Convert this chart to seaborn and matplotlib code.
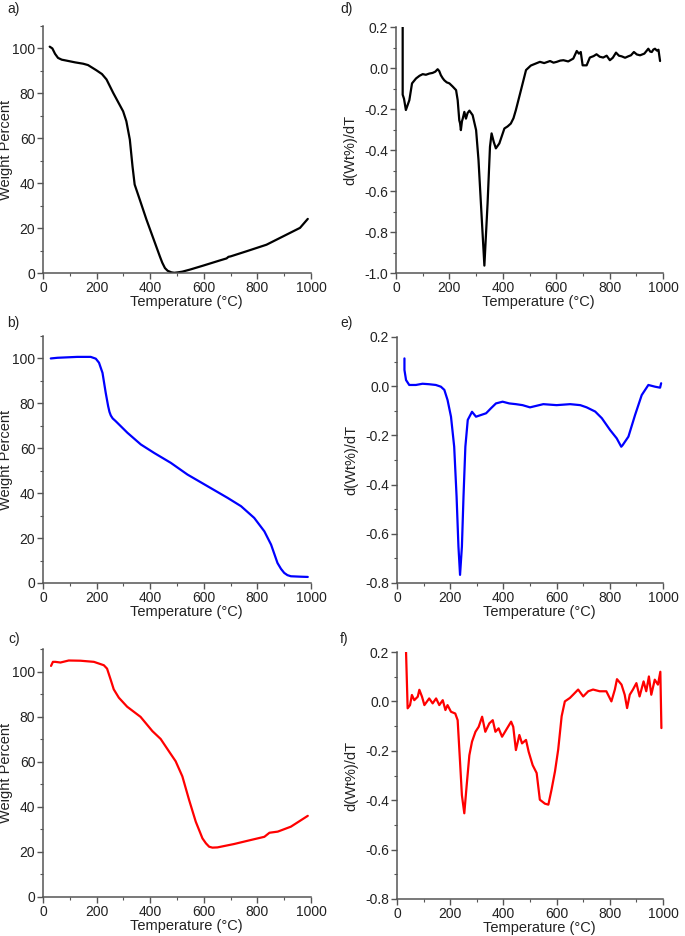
import matplotlib
matplotlib.use("Agg")
import matplotlib.pyplot as plt
from matplotlib.ticker import MultipleLocator, FormatStrFormatter
import seaborn as sns
import pandas as pd

sns.set_style("ticks")
plt.rcParams['font.family'] = ['Liberation Sans', 'DejaVu Sans']

# ---- Panel a: TGA (black) ----
a_T = [25, 35, 45, 56, 70, 87, 120, 150, 168, 199, 220, 237, 262, 299, 311, 324, 334, 342, 361,
       386, 411, 436, 445, 455, 465, 479, 490, 504, 520, 548, 598, 660, 685, 692, 700, 760, 834,
       909, 959, 988]
a_W = [100.8, 100.0, 97.6, 95.8, 95.0, 94.6, 93.8, 93.2, 92.6, 90.3, 88.6, 86.2, 80.2, 72.0, 67.6,
       59.4, 47.5, 39.4, 32.7, 23.8, 15.6, 7.4, 4.6, 2.2, 1.0, 0.3, 0.1, 0.3, 0.6, 1.5, 3.3, 5.6,
       6.5, 7.2, 7.4, 9.7, 12.6, 17.1, 20.1, 24.1]

# ---- Panel b: TGA (blue) ----
b_T = [29, 54, 128, 178, 197, 209, 222, 234, 243, 248, 253, 260, 271, 315, 365, 415, 477, 539,
       614, 689, 739, 788, 826, 851, 875, 888, 900, 912, 925, 963, 988]
b_W = [100.0, 100.3, 100.7, 100.7, 99.9, 98.1, 93.6, 84.7, 78.8, 76.2, 74.6, 73.3, 72.1, 66.9,
       61.7, 57.9, 53.5, 48.3, 43.1, 37.9, 34.2, 29.0, 23.0, 17.1, 8.9, 6.3, 4.5, 3.5, 3.0, 2.8, 2.7]

# ---- Panel c: TGA (red) ----
c_T = [30, 37, 46, 65, 96, 140, 190, 227, 239, 252, 264, 283, 314, 364, 408, 439, 470, 495, 520,
       545, 570, 595, 608, 620, 632, 651, 713, 776, 826, 845, 876, 925, 988]
c_W = [102.5, 104.3, 104.3, 104.0, 104.9, 104.8, 104.3, 102.8, 101.3, 96.6, 92.1, 88.4, 84.4,
       79.9, 73.6, 70.1, 64.6, 60.2, 53.5, 43.1, 33.4, 26.0, 23.8, 22.3, 21.9, 22.0, 23.5, 25.3,
       26.7, 28.5, 29.0, 31.2, 36.0]

# ---- Panel d: DTG (black) ----
d_T = [25, 25, 30, 37, 50, 60, 75, 88, 100, 112, 125, 137, 147, 156, 162, 168, 175, 181, 190,
       200, 212, 225, 231, 237, 240, 243, 247, 250, 256, 262, 268, 275, 287, 300, 309, 318, 331,
       343, 352, 358, 366, 374, 387, 406, 418, 430, 440, 449, 468, 487, 505, 520, 539, 555, 577,
       590, 602, 615, 627, 645, 664, 677, 685, 692, 699, 714, 726, 740, 751, 763, 776, 789, 801,
       812, 824, 835, 845, 858, 870, 880, 891, 902, 914, 930, 945, 952, 958, 964, 970, 977, 983, 989]
d_V = [0.20, -0.13, -0.15, -0.205, -0.157, -0.075, -0.051, -0.038, -0.030, -0.033, -0.027, -0.024,
       -0.018, -0.006, -0.015, -0.035, -0.05, -0.06, -0.07, -0.075, -0.09, -0.108, -0.157, -0.255,
       -0.27, -0.303, -0.26, -0.247, -0.214, -0.247, -0.22, -0.208, -0.230, -0.303, -0.449, -0.66,
       -0.964, -0.66, -0.384, -0.319, -0.36, -0.392, -0.368, -0.295, -0.285, -0.271, -0.245, -0.205,
       -0.108, -0.010, 0.012, 0.020, 0.030, 0.024, 0.034, 0.026, 0.030, 0.036, 0.038, 0.032, 0.046,
       0.083, 0.070, 0.078, 0.013, 0.013, 0.051, 0.058, 0.067, 0.055, 0.051, 0.060, 0.038, 0.050,
       0.075, 0.060, 0.057, 0.050, 0.057, 0.062, 0.078, 0.066, 0.062, 0.070, 0.094, 0.080, 0.078,
       0.090, 0.094, 0.085, 0.089, 0.034]

# ---- Panel e: DTG (blue) ----
e_T = [28, 28, 34, 46, 71, 96, 121, 146, 165, 178, 190, 203, 215, 224, 231, 237, 244, 250, 257,
       266, 282, 297, 316, 335, 353, 372, 397, 422, 447, 472, 500, 550, 600, 651, 689, 713, 745,
       770, 801, 826, 843, 848, 870, 895, 920, 945, 970, 989, 993]
e_V = [0.113, 0.066, 0.025, 0.005, 0.005, 0.010, 0.008, 0.005, -0.002, -0.015, -0.056, -0.124,
       -0.246, -0.449, -0.652, -0.767, -0.652, -0.449, -0.246, -0.137, -0.104, -0.124, -0.117,
       -0.110, -0.090, -0.070, -0.063, -0.070, -0.073, -0.077, -0.086, -0.073, -0.077, -0.073,
       -0.077, -0.086, -0.103, -0.130, -0.178, -0.212, -0.246, -0.240, -0.205, -0.117, -0.036,
       0.005, -0.002, -0.006, 0.012]

# ---- Panel f: DTG (red) ----
f_T = [34, 40, 49, 56, 65, 78, 84, 94, 103, 121, 134, 147, 159, 172, 182, 190, 203, 219, 228,
       237, 244, 253, 262, 272, 282, 295, 307, 320, 332, 347, 360, 370, 382, 395, 410, 429, 437,
       447, 460, 470, 485, 495, 510, 525, 537, 556, 569, 581, 594, 606, 619, 631, 650, 662, 681,
       700, 719, 737, 762, 787, 806, 819, 827, 844, 856, 865, 875, 887, 900, 912, 927, 937, 947,
       956, 969, 981, 990, 994]
f_V = [0.20, -0.028, -0.015, 0.026, 0.005, 0.019, 0.047, 0.019, -0.015, 0.012, -0.008, 0.012,
       -0.015, 0.005, -0.035, -0.015, -0.042, -0.049, -0.076, -0.245, -0.380, -0.453, -0.339,
       -0.218, -0.163, -0.123, -0.103, -0.062, -0.123, -0.089, -0.076, -0.123, -0.109, -0.143,
       -0.116, -0.082, -0.103, -0.197, -0.136, -0.170, -0.156, -0.204, -0.258, -0.290, -0.398,
       -0.414, -0.418, -0.357, -0.283, -0.195, -0.060, 0.000, 0.014, 0.027, 0.048, 0.020, 0.041,
       0.048, 0.041, 0.041, 0.000, 0.048, 0.090, 0.068, 0.027, -0.027, 0.027, 0.048, 0.074,
       0.020, 0.081, 0.041, 0.101, 0.027, 0.088, 0.068, 0.120, -0.108]

xlabel = "Temperature (\u00b0C)"
ylabel_tga = "Weight Percent"
ylabel_dtg = "d(Wt%)/dT"
panel_labels = ["a)", "b)", "c)", "d)", "e)", "f)"]

fig = plt.figure(figsize=(6.85, 9.36), dpi=100)
W, H = 685.0, 936.0

def ax_at(x0, x1, ytop, ybot):
    return fig.add_axes([x0 / W, 1 - ybot / H, (x1 - x0) / W, (ybot - ytop) / H])

axes_spec = [
    (43, 311, 26, 273),   # a
    (43, 311, 336, 583),  # b
    (43, 311, 649, 897),  # c
    (396, 663, 27, 273),  # d
    (397, 663, 337, 583), # e
    (397, 663, 652, 899), # f
]
series = [(a_T, a_W, "black"), (b_T, b_W, "#0000ff"), (c_T, c_W, "#ff0000"),
          (d_T, d_V, "black"), (e_T, e_V, "#0000ff"), (f_T, f_V, "#ff0000")]
ylims = [(0, 110), (0, 110), (0, 110), (-1.0, 0.2), (-0.8, 0.2), (-0.8, 0.2)]

spine_col = "#555555"
txt_col = "#222222"
fs = 10
for i, (spec, (T, V, col), yl) in enumerate(zip(axes_spec, series, ylims)):
    ax = ax_at(*spec)
    df = pd.DataFrame({"T": T, "V": V})
    sns.lineplot(data=df, x="T", y="V", ax=ax, color=col, lw=1.6,
                 estimator=None, sort=False)
    ax.set_xlim(0, 1000)
    ax.set_ylim(*yl)
    ax.xaxis.set_major_locator(MultipleLocator(200))
    ax.xaxis.set_minor_locator(MultipleLocator(100))
    if i < 3:
        ax.yaxis.set_major_locator(MultipleLocator(20))
        ax.yaxis.set_minor_locator(MultipleLocator(10))
        ax.set_ylabel(ylabel_tga, fontsize=fs + 0.5)
        ax.yaxis.set_label_coords(-0.112, 0.5)
    else:
        ax.yaxis.set_major_locator(MultipleLocator(0.2))
        ax.yaxis.set_minor_locator(MultipleLocator(0.1))
        ax.yaxis.set_major_formatter(FormatStrFormatter('%.1f'))
        ax.set_ylabel(ylabel_dtg, fontsize=fs + 0.5)
        ax.yaxis.set_label_coords(-0.146, 0.5)
    ax.set_xlabel(xlabel, fontsize=fs + 0.5)
    ax.xaxis.set_label_coords(0.534, -0.088)
    for s in ["top", "right"]:
        ax.spines[s].set_visible(False)
    for s in ["left", "bottom"]:
        ax.spines[s].set_color(spine_col)
        ax.spines[s].set_linewidth(1.1)
    ax.tick_params(which="major", direction="out", length=4, width=1, color=spine_col,
                   labelsize=fs, pad=1.5, labelcolor=txt_col)
    ax.tick_params(which="minor", direction="out", length=2.5, width=0.8, color=spine_col)
    ax.xaxis.label.set_color(txt_col)
    ax.yaxis.label.set_color(txt_col)

label_pos = [(7, 2), (7, 316), (8, 632), (340, 2), (340, 316), (340, 632)]
for lab, (x, y) in zip(panel_labels, label_pos):
    fig.text(x / W, 1 - y / H, lab, fontsize=fs, va="top", ha="left", color=txt_col)

fig.savefig("out.png", dpi=100)
